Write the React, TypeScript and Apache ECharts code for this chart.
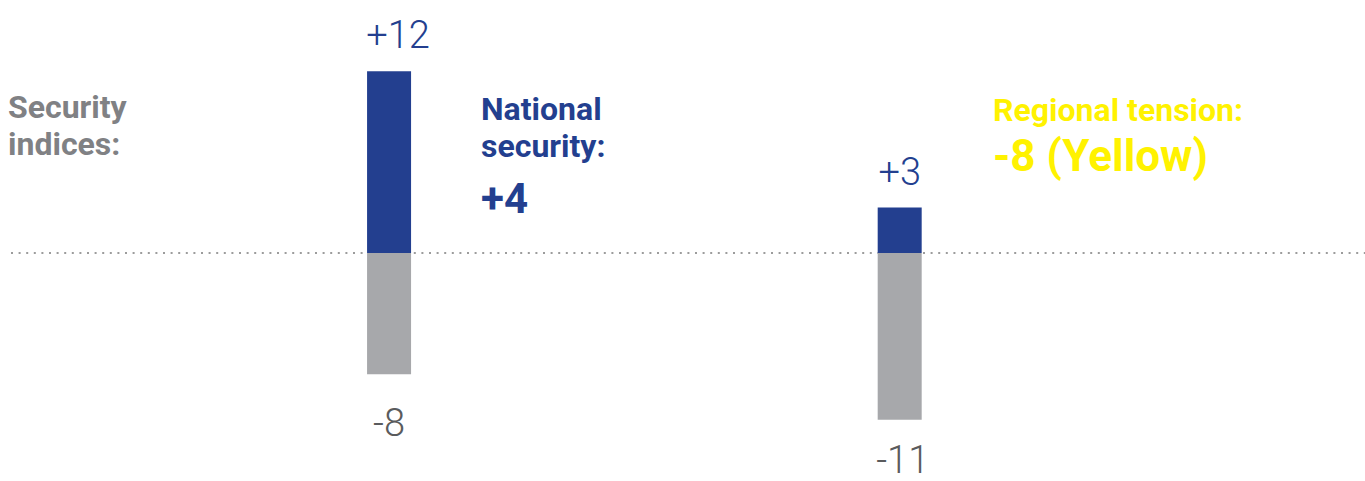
import React, { useEffect, useRef } from "react";
import * as echarts from "echarts";

const categories = ["Period 1", "Period 2"];
const positiveValues = [12, 3];
const negativeValues = [-8, -11];
const yMin = -15;
const yMax = 15;

const BLUE = "#233f8f";
const GREY_BAR = "#a7a8ab";
const GREY_LABEL = "#5a5b5d";
const GREY_TITLE = "#808184";
const YELLOW = "#fff200";
const FONT = "Roboto, 'Noto Sans', sans-serif";

export default function App() {
  const ref = useRef<HTMLDivElement>(null);
  useEffect(() => {
    if (!ref.current) return;
    const chart = echarts.init(ref.current, null, { renderer: "svg" });
    const fmt = (p: any) => (p.value > 0 ? "+" + p.value : String(p.value));
    const posOffsets = [[9, 0], [0, 0]];
    const negDistances = [34, 25];
    const negOffsets = [[0, 0], [3, 0]];
    chart.setOption({
      animation: false,
      grid: { left: 133.75, right: 210, top: 25.75, bottom: 0.75 },
      xAxis: {
        type: "category",
        data: categories,
        show: false,
      },
      yAxis: {
        type: "value",
        min: yMin,
        max: yMax,
        show: false,
        splitLine: { show: false },
      },
      series: [
        {
          name: "Positive",
          type: "bar",
          stack: "total",
          barWidth: 44,
          z: 3,
          data: positiveValues.map((v, i) => ({ value: v, label: { offset: posOffsets[i] } })),
          itemStyle: { color: BLUE },
          label: {
            show: true,
            position: "top",
            distance: 17,
            formatter: fmt,
            color: BLUE,
            fontFamily: FONT,
            fontSize: 38,
            fontWeight: 300,
          },
        },
        {
          name: "Negative",
          type: "bar",
          stack: "total",
          barWidth: 44,
          z: 3,
          data: negativeValues.map((v, i) => ({
            value: v,
            label: { distance: negDistances[i], offset: negOffsets[i] },
          })),
          itemStyle: { color: GREY_BAR },
          label: {
            show: true,
            position: "bottom",
            distance: 30,
            formatter: fmt,
            color: GREY_LABEL,
            fontFamily: FONT,
            fontSize: 38,
            lineHeight: 30,
            fontWeight: 300,
          },
        },
      ],
    });
    const zeroY = chart.convertToPixel({ yAxisIndex: 0 }, 0) as number;
    const txt = (text: string, x: number, y: number, size: number, color: string) => ({
      type: "text",
      x,
      y,
      style: {
        text,
        fill: color,
        font: `bold ${size}px ${FONT}`,
        textAlign: "left",
        textVerticalAlign: "middle",
      },
    });
    chart.setOption({
      graphic: [
        {
          type: "line",
          z: 0,
          shape: { x1: 11, y1: zeroY, x2: 1365, y2: zeroY },
          style: { stroke: "#9c9c9c", lineWidth: 2, lineDash: [2, 5.6] },
        },
        txt("Security", 8, 107, 32, GREY_TITLE),
        txt("indices:", 8, 144, 32, GREY_TITLE),
        txt("National", 481, 109, 32, BLUE),
        txt("security:", 481, 146, 32, BLUE),
        txt("+4", 481, 198, 42, BLUE),
        txt("Regional tension:", 993, 109.5, 32, YELLOW),
        txt("-8 (Yellow)", 993, 156, 44, YELLOW),
      ],
    });
    return () => chart.dispose();
  }, []);
  return (
    <div
      ref={ref}
      style={{ position: "absolute", left: 0, top: 0, width: 1365, height: 481 }}
    />
  );
}
